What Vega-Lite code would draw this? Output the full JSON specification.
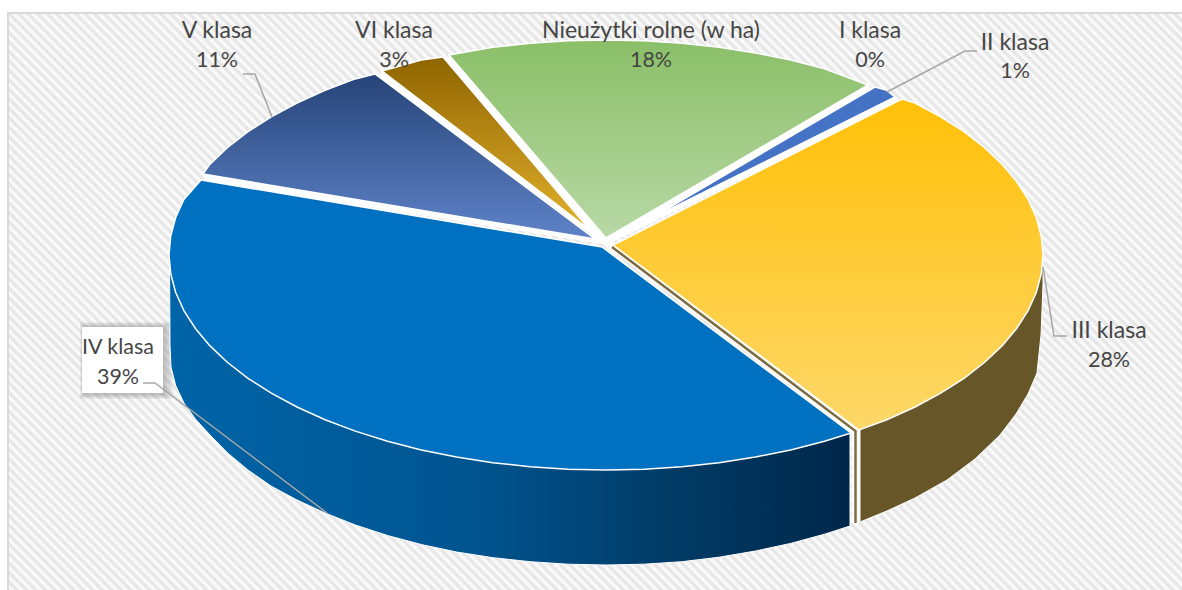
{"$schema":"https://vega.github.io/schema/vega-lite/v6.json","width":1175,"height":578,"autosize":{"type":"none"},"padding":{"left":7,"top":12,"right":0,"bottom":0},"background":"#ffffff","view":{"stroke":null},
"encoding":{"x":{"field":"x","type":"quantitative","axis":null,"scale":{"domain":[7,1182],"nice":false,"zero":false}},"y":{"field":"y","type":"quantitative","axis":null,"scale":{"domain":[590,12],"nice":false,"zero":false}}},
"datasets":{
"hatch":[{"x":-106,"y":1000,"x2":1294,"y2":-400}],
"frame":[{"i":0,"x":8,"y":590},{"i":1,"x":8,"y":13},{"i":2,"x":1182,"y":13}],
"gaps":[{"g":"a","i":0,"x":606,"y":241},{"g":"a","i":1,"x":204,"y":177},{"g":"b","i":0,"x":606,"y":241},{"g":"b","i":1,"x":380,"y":74},{"g":"c","i":0,"x":606,"y":241},{"g":"c","i":1,"x":447,"y":58},{"g":"d","i":0,"x":606,"y":241},{"g":"d","i":1,"x":870,"y":87},{"g":"e","i":0,"x":606,"y":241},{"g":"e","i":1,"x":897,"y":99},{"g":"f","i":0,"x":606,"y":241},{"g":"f","i":1,"x":855.5,"y":431},{"g":"g","i":0,"x":855.5,"y":431},{"g":"g","i":1,"x":855.5,"y":524}],
"strip":[{"i":0,"x":612,"y":247},{"i":1,"x":855.5,"y":431},{"i":2,"x":855.5,"y":523}],
"outline":[
{"p":"wIV","i":0,"x":169.5,"y":258},{"p":"wIV","i":1,"x":170,"y":345},{"p":"wIV","i":2,"x":171,"y":367},{"p":"wIV","i":3,"x":175.6,"y":385.3},{"p":"wIV","i":4,"x":183.9,"y":403},{"p":"wIV","i":5,"x":195.4,"y":419},{"p":"wIV","i":6,"x":210,"y":435},{"p":"wIV","i":7,"x":227.6,"y":453},{"p":"wIV","i":8,"x":248,"y":470},{"p":"wIV","i":9,"x":271.3,"y":486.2},{"p":"wIV","i":10,"x":297,"y":500},{"p":"wIV","i":11,"x":325.1,"y":513},{"p":"wIV","i":12,"x":355.3,"y":525},{"p":"wIV","i":13,"x":387.5,"y":535.5},{"p":"wIV","i":14,"x":421.3,"y":544.5},{"p":"wIV","i":15,"x":456.5,"y":552},{"p":"wIV","i":16,"x":492.9,"y":557.7},{"p":"wIV","i":17,"x":530.1,"y":561.7},{"p":"wIV","i":18,"x":567.9,"y":564.2},{"p":"wIV","i":19,"x":606,"y":565},{"p":"wIV","i":20,"x":644.1,"y":564.2},{"p":"wIV","i":21,"x":681.9,"y":561.7},{"p":"wIV","i":22,"x":719.1,"y":557.2},{"p":"wIV","i":23,"x":755.5,"y":551},{"p":"wIV","i":24,"x":790.7,"y":543.4},{"p":"wIV","i":25,"x":824.5,"y":534.2},{"p":"wIV","i":26,"x":850,"y":526},{"p":"wIV","i":27,"x":850,"y":433},{"p":"wIV","i":28,"x":169.5,"y":258},
{"p":"wIII","i":0,"x":860,"y":430},{"p":"wIII","i":1,"x":860,"y":522},{"p":"wIII","i":2,"x":886.9,"y":511},{"p":"wIII","i":3,"x":915,"y":498},{"p":"wIII","i":4,"x":947,"y":480},{"p":"wIII","i":5,"x":975,"y":459},{"p":"wIII","i":6,"x":1000,"y":435},{"p":"wIII","i":7,"x":1016,"y":414},{"p":"wIII","i":8,"x":1028,"y":394},{"p":"wIII","i":9,"x":1037,"y":373},{"p":"wIII","i":10,"x":1041,"y":335},{"p":"wIII","i":11,"x":1043,"y":285},{"p":"wIII","i":12,"x":1043,"y":258},{"p":"wIII","i":13,"x":860,"y":430},
{"p":"IV","i":0,"x":602,"y":247},{"p":"IV","i":1,"x":851,"y":433},{"p":"IV","i":2,"x":824.5,"y":441.2},{"p":"IV","i":3,"x":790.7,"y":449.9},{"p":"IV","i":4,"x":755.5,"y":457},{"p":"IV","i":5,"x":719.1,"y":462.7},{"p":"IV","i":6,"x":681.9,"y":466.7},{"p":"IV","i":7,"x":644.1,"y":469.2},{"p":"IV","i":8,"x":606,"y":470},{"p":"IV","i":9,"x":567.9,"y":469.2},{"p":"IV","i":10,"x":530.1,"y":466.7},{"p":"IV","i":11,"x":492.9,"y":462.7},{"p":"IV","i":12,"x":456.5,"y":457},{"p":"IV","i":13,"x":421.3,"y":449.9},{"p":"IV","i":14,"x":387.5,"y":441.2},{"p":"IV","i":15,"x":355.3,"y":431.1},{"p":"IV","i":16,"x":325.1,"y":419.7},{"p":"IV","i":17,"x":297,"y":407},{"p":"IV","i":18,"x":271.3,"y":393.2},{"p":"IV","i":19,"x":248,"y":378.3},{"p":"IV","i":20,"x":227.6,"y":362.5},{"p":"IV","i":21,"x":210,"y":345.9},{"p":"IV","i":22,"x":195.4,"y":328.5},{"p":"IV","i":23,"x":183.9,"y":310.6},{"p":"IV","i":24,"x":175.6,"y":292.3},{"p":"IV","i":25,"x":170.7,"y":273.7},{"p":"IV","i":26,"x":169,"y":255},{"p":"IV","i":27,"x":170.7,"y":236.3},{"p":"IV","i":28,"x":175.6,"y":217.7},{"p":"IV","i":29,"x":183.9,"y":199.4},{"p":"IV","i":30,"x":201,"y":180},{"p":"IV","i":31,"x":602,"y":247},
{"p":"V","i":0,"x":595,"y":239},{"p":"V","i":1,"x":203,"y":174},{"p":"V","i":2,"x":210,"y":164.1},{"p":"V","i":3,"x":227.6,"y":147.5},{"p":"V","i":4,"x":248,"y":131.7},{"p":"V","i":5,"x":271.3,"y":116.8},{"p":"V","i":6,"x":297,"y":103},{"p":"V","i":7,"x":325.1,"y":90.3},{"p":"V","i":8,"x":355.3,"y":78.9},{"p":"V","i":9,"x":375,"y":74},{"p":"V","i":10,"x":595,"y":239},
{"p":"VI","i":0,"x":590,"y":230},{"p":"VI","i":1,"x":382,"y":71},{"p":"VI","i":2,"x":421.3,"y":60.1},{"p":"VI","i":3,"x":443,"y":57},{"p":"VI","i":4,"x":590,"y":230},
{"p":"N","i":0,"x":606,"y":238},{"p":"N","i":1,"x":449,"y":55},{"p":"N","i":2,"x":492.9,"y":47.3},{"p":"N","i":3,"x":530.1,"y":43.3},{"p":"N","i":4,"x":567.9,"y":40.8},{"p":"N","i":5,"x":606,"y":40},{"p":"N","i":6,"x":644.1,"y":40.8},{"p":"N","i":7,"x":681.9,"y":43.3},{"p":"N","i":8,"x":719.1,"y":47.3},{"p":"N","i":9,"x":755.5,"y":53},{"p":"N","i":10,"x":790.7,"y":60.1},{"p":"N","i":11,"x":824.5,"y":68.8},{"p":"N","i":12,"x":868,"y":85},{"p":"N","i":13,"x":606,"y":238},
{"p":"II","i":0,"x":648,"y":220},{"p":"II","i":1,"x":875,"y":87},{"p":"II","i":2,"x":886.9,"y":90.3},{"p":"II","i":3,"x":895,"y":97},{"p":"II","i":4,"x":648,"y":220},
{"p":"III","i":0,"x":613,"y":245},{"p":"III","i":1,"x":902,"y":99},{"p":"III","i":2,"x":915,"y":103},{"p":"III","i":3,"x":940.7,"y":116.8},{"p":"III","i":4,"x":964,"y":131.7},{"p":"III","i":5,"x":984.4,"y":147.5},{"p":"III","i":6,"x":1002,"y":164.1},{"p":"III","i":7,"x":1016.6,"y":181.5},{"p":"III","i":8,"x":1028.1,"y":199.4},{"p":"III","i":9,"x":1036.4,"y":217.7},{"p":"III","i":10,"x":1041.3,"y":236.3},{"p":"III","i":11,"x":1043,"y":255},{"p":"III","i":12,"x":1041.3,"y":273.7},{"p":"III","i":13,"x":1036.4,"y":292.3},{"p":"III","i":14,"x":1028.1,"y":310.6},{"p":"III","i":15,"x":1016.6,"y":328.5},{"p":"III","i":16,"x":1002,"y":345.9},{"p":"III","i":17,"x":984.4,"y":362.5},{"p":"III","i":18,"x":964,"y":378.3},{"p":"III","i":19,"x":940.7,"y":393.2},{"p":"III","i":20,"x":915,"y":407},{"p":"III","i":21,"x":886.9,"y":419.7},{"p":"III","i":22,"x":859,"y":430},{"p":"III","i":23,"x":613,"y":245}
],
"leaders":[{"k":"IV","i":0,"x":143,"y":383},{"k":"IV","i":1,"x":155,"y":383},{"k":"IV","i":2,"x":327,"y":513},{"k":"V","i":0,"x":243,"y":74},{"k":"V","i":1,"x":255,"y":74},{"k":"V","i":2,"x":272,"y":117},{"k":"II","i":0,"x":977,"y":51},{"k":"II","i":1,"x":965,"y":51},{"k":"II","i":2,"x":887,"y":92},{"k":"III","i":0,"x":1067,"y":336},{"k":"III","i":1,"x":1054,"y":336},{"k":"III","i":2,"x":1043,"y":267}],
"box":[{"x":82,"x2":163,"y":327,"y2":393}],
"shadow":[{"x":80,"x2":173,"y":322,"y2":399},{"x":81,"x2":171,"y":323,"y2":398},{"x":81,"x2":169,"y":324,"y2":397},{"x":82,"x2":167,"y":325,"y2":396},{"x":82,"x2":165,"y":326,"y2":395}],
"labels":[{"klasa":"I klasa","udzial":"0%","x":870,"y":31,"y2":61},{"klasa":"II klasa","udzial":"1%","x":1015,"y":43,"y2":72},{"klasa":"III klasa","udzial":"28%","x":1109,"y":331,"y2":361},{"klasa":"IV klasa","udzial":"39%","x":118,"y":348,"y2":378},{"klasa":"V klasa","udzial":"11%","x":217,"y":31,"y2":61},{"klasa":"VI klasa","udzial":"3%","x":394,"y":31,"y2":61},{"klasa":"Nieużytki rolne (w ha)","udzial":"18%","x":651,"y":31,"y2":61}]
},
"layer":[
{"data":{"name":"hatch"},"mark":{"type":"rule","clip":true,"stroke":"#f9f9f9","strokeWidth":1500},"encoding":{"x2":{"field":"x2"},"y2":{"field":"y2"}}},
{"data":{"name":"hatch"},"mark":{"type":"rule","clip":true,"stroke":"#e7e7e7","strokeWidth":1500,"strokeDash":[3.4,3.3]},"encoding":{"x2":{"field":"x2"},"y2":{"field":"y2"}}},
{"data":{"name":"frame"},"mark":{"type":"line","stroke":"#d9d9d9","strokeWidth":2},"encoding":{"order":{"field":"i"}}},
{"data":{"name":"shadow"},"mark":{"type":"rect","fill":"#707070","opacity":0.09},"encoding":{"x2":{"field":"x2"},"y2":{"field":"y2"}}},
{"data":{"name":"box"},"mark":{"type":"rect","fill":"#ffffff"},"encoding":{"x2":{"field":"x2"},"y2":{"field":"y2"}}},
{"data":{"name":"outline"},"transform":[{"filter":{"field":"p","equal":"wIV"}}],"mark":{"type":"line","stroke":"#ffffff","strokeWidth":1,"fill":{"gradient":"linear","x1":0,"y1":0,"x2":1,"y2":0,"stops":[{"offset":0,"color":"#0064a8"},{"offset":0.45,"color":"#00548f"},{"offset":0.75,"color":"#013a64"},{"offset":1,"color":"#00274a"}]}},"encoding":{"order":{"field":"i"}}},
{"data":{"name":"outline"},"transform":[{"filter":{"field":"p","equal":"wIII"}}],"mark":{"type":"line","stroke":"#ffffff","strokeWidth":1,"fill":"#675628"},"encoding":{"order":{"field":"i"}}},
{"data":{"name":"gaps"},"mark":{"type":"line","stroke":"#ffffff","strokeWidth":7},"encoding":{"detail":{"field":"g"},"order":{"field":"i"}}},
{"data":{"name":"outline"},"transform":[{"filter":{"field":"p","equal":"IV"}}],"mark":{"type":"line","stroke":"#ffffff","strokeWidth":1.5,"fill":"#0070c0"},"encoding":{"order":{"field":"i"}}},
{"data":{"name":"outline"},"transform":[{"filter":{"field":"p","equal":"V"}}],"mark":{"type":"line","stroke":"#ffffff","strokeWidth":1.5,"fill":{"gradient":"linear","x1":0,"y1":0,"x2":0,"y2":1,"stops":[{"offset":0,"color":"#264478"},{"offset":1,"color":"#5f83c8"}]}},"encoding":{"order":{"field":"i"}}},
{"data":{"name":"outline"},"transform":[{"filter":{"field":"p","equal":"VI"}}],"mark":{"type":"line","stroke":"#ffffff","strokeWidth":1.5,"fill":{"gradient":"linear","x1":0,"y1":0,"x2":0,"y2":1,"stops":[{"offset":0,"color":"#8f6500"},{"offset":1,"color":"#e2b02c"}]}},"encoding":{"order":{"field":"i"}}},
{"data":{"name":"outline"},"transform":[{"filter":{"field":"p","equal":"N"}}],"mark":{"type":"line","stroke":"#ffffff","strokeWidth":1.5,"fill":{"gradient":"linear","x1":0,"y1":0,"x2":0,"y2":1,"stops":[{"offset":0,"color":"#8abf68"},{"offset":1,"color":"#b8d8a5"}]}},"encoding":{"order":{"field":"i"}}},
{"data":{"name":"outline"},"transform":[{"filter":{"field":"p","equal":"II"}}],"mark":{"type":"line","stroke":"#ffffff","strokeWidth":1.5,"fill":"#4472c4"},"encoding":{"order":{"field":"i"}}},
{"data":{"name":"outline"},"transform":[{"filter":{"field":"p","equal":"III"}}],"mark":{"type":"line","stroke":"#ffffff","strokeWidth":1.5,"fill":{"gradient":"linear","x1":0,"y1":0,"x2":0,"y2":1,"stops":[{"offset":0,"color":"#ffc008"},{"offset":1,"color":"#fdd869"}]}},"encoding":{"order":{"field":"i"}}},
{"data":{"name":"strip"},"mark":{"type":"line","stroke":"#7d6c42","strokeWidth":2.5},"encoding":{"order":{"field":"i"}}},
{"data":{"name":"leaders"},"mark":{"type":"line","stroke":"#a6a6a6","strokeWidth":1.5},"encoding":{"detail":{"field":"k"},"order":{"field":"i"}}},
{"data":{"name":"labels"},"transform":[{"filter":{"field":"klasa","oneOf":["I klasa","II klasa","III klasa","V klasa","VI klasa","Nieużytki rolne (w ha)"]}}],"mark":{"type":"text","font":"Lato","fontSize":23,"fill":"#454545","align":"center","baseline":"middle"},"encoding":{"text":{"field":"klasa"}}},
{"data":{"name":"labels"},"transform":[{"filter":{"field":"klasa","equal":"IV klasa"}}],"mark":{"type":"text","font":"Lato","fontSize":21.5,"fill":"#454545","align":"center","baseline":"middle"},"encoding":{"text":{"field":"klasa"}}},
{"data":{"name":"labels"},"mark":{"type":"text","font":"Lato","fontSize":21.5,"fill":"#454545","align":"center","baseline":"middle"},"encoding":{"text":{"field":"udzial"},"y":{"field":"y2","type":"quantitative","axis":null,"scale":{"domain":[590,12],"nice":false,"zero":false}}}}
]}
